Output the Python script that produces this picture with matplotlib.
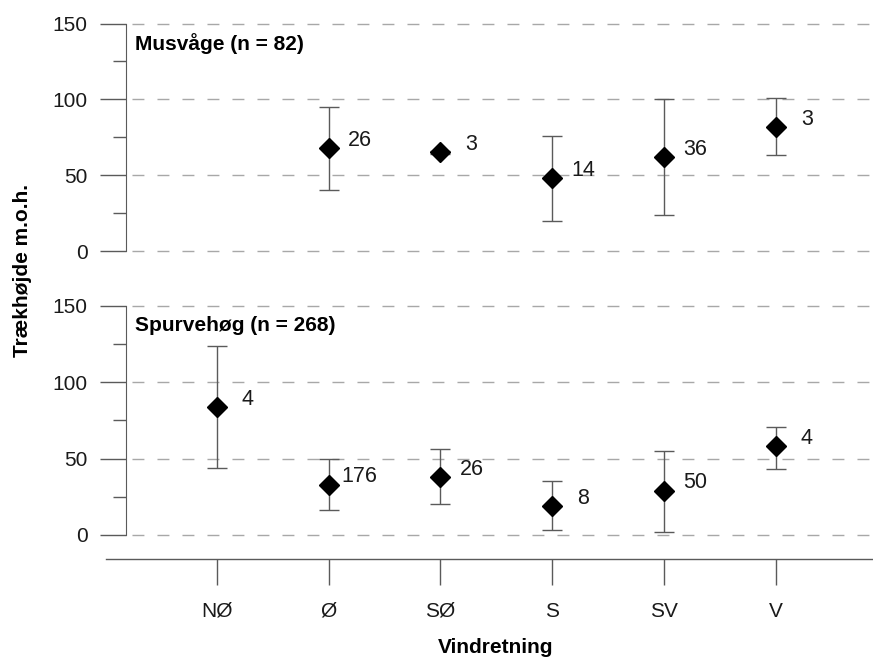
import numpy as np
import matplotlib
matplotlib.use("Agg")
import matplotlib.pyplot as plt

plt.rcParams['font.family'] = ['Liberation Sans', 'DejaVu Sans']

# Wind directions on the x axis
directions = ['NØ', 'Ø', 'SØ', 'S', 'SV', 'V']

# Musvåge (top panel) - no observations for NØ
musvaage_mean = [np.nan, 68, 65, 48, 62, 82]
musvaage_low = [np.nan, 40, 64, 20, 24, 63]
musvaage_high = [np.nan, 95, 66, 76, 100, 101]
musvaage_n = [None, 26, 3, 14, 36, 3]

# Spurvehøg (bottom panel)
spurvehoeg_mean = [84, 33, 38, 19, 29, 58]
spurvehoeg_low = [44, 16, 20, 3, 2, 43]
spurvehoeg_high = [124, 50, 56, 35, 55, 71]
spurvehoeg_n = [4, 176, 26, 8, 50, 4]

panel_titles = ['Musvåge (n = 82)', 'Spurvehøg (n = 268)']
grid_values = [0, 50, 100, 150]
minor_values = [25, 75, 125]

grey = '#5a5a5a'
grid_grey = '#a8a8a8'
fs = 15

fig = plt.figure(figsize=(8.73, 6.59), dpi=100)
ax_top = fig.add_axes([0.1443, 0.6191, 0.8557, 0.3452])
ax_bot = fig.add_axes([0.1443, 0.1513, 0.8557, 0.3844])

x = np.arange(1, len(directions) + 1)


def draw_panel(ax, mean, low, high, n, title, ymin):
    mean = np.array(mean, dtype=float)
    low = np.array(low, dtype=float)
    high = np.array(high, dtype=float)

    ax.set_xlim(0.186, 6.87)
    ax.set_ylim(ymin, 150)

    # dashed horizontal guide lines
    for v in grid_values:
        ax.axhline(v, color=grid_grey, lw=1, linestyle=(13.7, (8.6, 9.4)),
                   clip_on=False, zorder=0)

    ax.errorbar(x, mean, yerr=[mean - low, high - mean], fmt='none',
                ecolor=grey, elinewidth=1, capsize=7.2, capthick=1, zorder=2)
    ax.plot(x, mean, linestyle='none', marker='D', markersize=10,
            color='black', zorder=3)

    for xi, m, cnt in zip(x, mean, n):
        if cnt is None:
            continue
        ax.annotate(str(cnt), (xi, m), xytext=(22.3, 5.5),
                    textcoords='offset points', ha='center', va='center',
                    fontsize=15.5, color='#1a1a1a')

    ax.text(0.012, 137, title, transform=ax.get_yaxis_transform(),
            fontsize=fs, fontweight='bold', ha='left', va='center')

    for side in ['top', 'right', 'bottom']:
        ax.spines[side].set_visible(False)
    ax.spines['left'].set_color(grey)
    ax.spines['left'].set_bounds(0, 150)

    ax.set_yticks(grid_values)
    ax.set_yticks(minor_values, minor=True)
    ax.tick_params(axis='y', which='major', length=18.7, width=1,
                   color=grey, pad=9, labelsize=fs, labelcolor='#1a1a1a')
    ax.tick_params(axis='y', which='minor', length=9.4, width=1, color=grey)
    ax.patch.set_visible(False)


draw_panel(ax_top, musvaage_mean, musvaage_low, musvaage_high, musvaage_n,
           panel_titles[0], 0)
draw_panel(ax_bot, spurvehoeg_mean, spurvehoeg_low, spurvehoeg_high,
           spurvehoeg_n, panel_titles[1], -16)

# x axis only on the bottom panel
ax_top.set_xticks([])
ax_bot.set_xticks(x)
ax_bot.set_xticklabels(directions)
ax_bot.tick_params(axis='x', length=18.7, width=1, color=grey, pad=12,
                   labelsize=fs, labelcolor='#1a1a1a')
ax_bot.plot([-0.0268, 1], [0, 0], transform=ax_bot.transAxes, color=grey,
            lw=1, clip_on=False)

fig.text(0.026, 0.59, 'Trækhøjde m.o.h.', rotation=90, fontsize=fs,
         fontweight='bold', ha='center', va='center')
fig.text(0.568, 0.0167, 'Vindretning', fontsize=fs, fontweight='bold',
         ha='center', va='center')

fig.savefig('out.png', dpi=100)
